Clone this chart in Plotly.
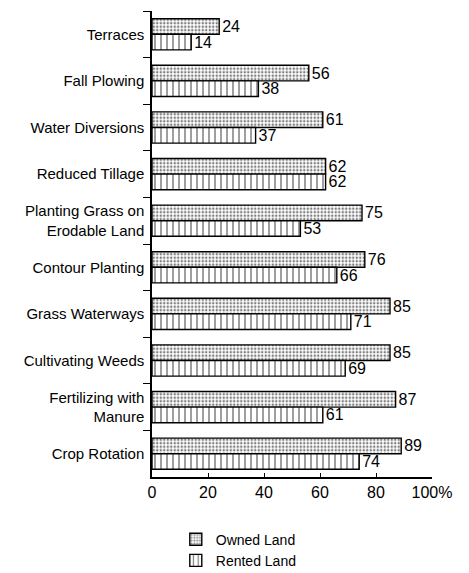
import plotly.graph_objects as go

categories = ["Terraces", "Fall Plowing", "Water Diversions", "Reduced Tillage",
              "Planting Grass on<br>Erodable Land", "Contour Planting", "Grass Waterways",
              "Cultivating Weeds", "Fertilizing with<br>Manure", "Crop Rotation"]
owned = [24, 56, 61, 62, 75, 76, 85, 85, 87, 89]
rented = [14, 38, 37, 62, 53, 66, 71, 69, 61, 74]
x_tickvals = [0, 20, 40, 60, 80, 100]
x_ticktext = ["0", "20", "40", "60", "80", "100%"]

FONT = "Liberation Sans, Arial, sans-serif"

fig = go.Figure()
fig.add_trace(go.Bar(
    y=categories, x=owned, orientation="h", name="Owned Land",
    text=[str(v) for v in owned], textposition="outside", cliponaxis=False,
    constraintext="none",
    textfont=dict(size=16, color="black", family=FONT),
    marker=dict(color="white", line=dict(color="black", width=1.4),
                pattern=dict(shape=".", fgcolor="black", bgcolor="white", size=3.5, solidity=0.4)),
))
fig.add_trace(go.Bar(
    y=categories, x=rented, orientation="h", name="Rented Land",
    text=[str(v) for v in rented], textposition="outside", cliponaxis=False,
    constraintext="none",
    textfont=dict(size=16, color="black", family=FONT),
    marker=dict(color="white", line=dict(color="black", width=1.4),
                pattern=dict(shape="|", fgcolor="black", bgcolor="white", size=6, solidity=0.25)),
))

fig.update_layout(
    width=461, height=565,
    margin=dict(l=144, r=37, t=3, b=96, autoexpand=False),
    barmode="group", bargap=0.33, bargroupgap=0.0,
    plot_bgcolor="white", paper_bgcolor="white",
    font=dict(family=FONT, size=15, color="black"),
    showlegend=True,
    legend=dict(x=0.085, xanchor="left", y=-0.1, yanchor="top", orientation="v",
                font=dict(size=14, family=FONT), tracegroupgap=0, itemwidth=30,
                bgcolor="rgba(0,0,0,0)"),
    xaxis=dict(range=[0, 100], tickvals=x_tickvals, ticktext=x_ticktext, automargin=False,
               showgrid=False, zeroline=False, showline=True, linecolor="black", linewidth=1.5,
               ticks="inside", ticklen=4, tickcolor="black", tickfont=dict(size=16)),
    yaxis=dict(autorange="reversed", showgrid=False, zeroline=False, automargin=False,
               showline=True, linecolor="black", linewidth=1.5,
               ticks="outside", tickson="boundaries", ticklen=7, tickcolor="black",
               tickfont=dict(size=15), ticklabelstandoff=3),
)

fig.write_html("out.html")
